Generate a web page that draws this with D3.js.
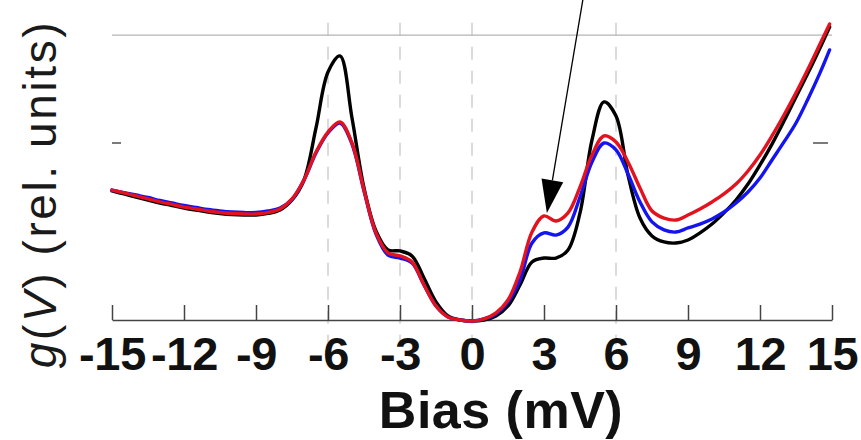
<!DOCTYPE html>
<html>
<head>
<meta charset="utf-8">
<script src="https://cdn.jsdelivr.net/npm/d3@7"></script>
<style>
  html, body { margin: 0; padding: 0; background: #fff; }
  svg { display: block; }
</style>
</head>
<body>
<svg id="chart" width="861" height="440"></svg>
<script>
// Bias voltages (mV) at which the conductance spectra are sampled
const bias = [
  -15, -14.5, -14, -13.5, -13, -12.5, -12, -11.5, -11, -10.5,
  -10, -9.5, -9, -8.5, -8, -7.5, -7, -6.5, -6, -5.5,
  -5, -4.5, -4, -3.5, -3, -2.5, -2, -1.5, -1, -0.5,
  0, 0.5, 1, 1.5, 2, 2.5, 3, 3.5, 4, 4.5,
  5, 5.5, 6, 6.5, 7, 7.5, 8, 8.5, 9, 9.5,
  10, 10.5, 11, 11.5, 12, 12.5, 13, 13.5, 14, 14.5, 14.9
];

// g(V) spectra, relative units
const gBlack = [
  0.729, 0.712, 0.695, 0.678, 0.661, 0.647, 0.633, 0.621, 0.610, 0.602,
  0.596, 0.593, 0.593, 0.602, 0.621, 0.678, 0.791, 1.085, 1.401, 1.492,
  1.141, 0.746, 0.503, 0.396, 0.390, 0.362, 0.237, 0.102, 0.023, 0.000,
  -0.006, 0.000, 0.023, 0.079, 0.198, 0.328, 0.350, 0.350, 0.396, 0.605,
  1.017, 1.232, 1.153, 0.819, 0.576, 0.475, 0.441, 0.435, 0.452, 0.492,
  0.542, 0.605, 0.678, 0.768, 0.876, 0.994, 1.124, 1.260, 1.395, 1.537, 1.655
];
const gBlue = [
  0.734, 0.720, 0.706, 0.692, 0.675, 0.661, 0.647, 0.636, 0.624, 0.616,
  0.610, 0.607, 0.607, 0.616, 0.633, 0.681, 0.791, 0.944, 1.057, 1.113,
  0.994, 0.729, 0.486, 0.367, 0.350, 0.322, 0.198, 0.079, 0.017, 0.000,
  -0.006, 0.006, 0.034, 0.102, 0.226, 0.435, 0.492, 0.480, 0.525, 0.695,
  0.893, 1.000, 0.961, 0.825, 0.667, 0.554, 0.509, 0.497, 0.520, 0.542,
  0.571, 0.610, 0.661, 0.723, 0.802, 0.904, 1.006, 1.113, 1.249, 1.396, 1.526
];
const gRed = [
  0.734, 0.718, 0.701, 0.684, 0.667, 0.653, 0.638, 0.627, 0.616, 0.607,
  0.602, 0.599, 0.599, 0.607, 0.627, 0.684, 0.791, 0.949, 1.062, 1.119,
  1.000, 0.734, 0.492, 0.379, 0.362, 0.328, 0.198, 0.079, 0.017, 0.000,
  -0.006, 0.006, 0.040, 0.113, 0.271, 0.497, 0.588, 0.559, 0.605, 0.751,
  0.932, 1.040, 1.006, 0.893, 0.746, 0.616, 0.576, 0.565, 0.593, 0.627,
  0.667, 0.712, 0.768, 0.842, 0.932, 1.040, 1.158, 1.283, 1.418, 1.559, 1.672
];

const xTicks = [-15, -12, -9, -6, -3, 0, 3, 6, 9, 12, 15];
const gridBias = [-6, -3, 0, 6];
const yTicks = [1];
const gTop = 1.61;

// Arrow marking the shoulder near +3 mV (tail, tip) in data units
const arrowTail = [4.62, 1.81];
const arrowTip = [3.12, 0.605];

const series = [
  { name: "black", values: gBlack, color: "#000000" },
  { name: "blue",  values: gBlue,  color: "#1414f0" },
  { name: "red",   values: gRed,   color: "#e3121e" }
];

const svg = d3.select("#chart");
const x = d3.scaleLinear().domain([-15, 15]).range([112, 832]);
const y = d3.scaleLinear().domain([0, 1]).range([320, 143]);

// dashed guide lines
svg.append("g").selectAll("line").data(gridBias).join("line")
  .attr("x1", d => x(d)).attr("x2", d => x(d))
  .attr("y1", y(1.68)).attr("y2", y(-0.14))
  .attr("stroke", "#c8c8c8").attr("stroke-width", 1.3)
  .attr("stroke-dasharray", "13,11");

// top frame line
svg.append("line")
  .attr("x1", x(-15)).attr("x2", x(15))
  .attr("y1", y(gTop)).attr("y2", y(gTop))
  .attr("stroke", "#b4b4b4").attr("stroke-width", 1.3);

// y ticks on both sides (inward, unlabeled)
svg.append("g").selectAll("line").data(yTicks).join("line")
  .attr("x1", x(-15)).attr("x2", x(-15) + 9)
  .attr("y1", d => y(d)).attr("y2", d => y(d))
  .attr("stroke", "#333").attr("stroke-width", 1.3);
svg.append("g").selectAll("line").data(yTicks).join("line")
  .attr("x1", x(15) - 19).attr("x2", x(15) - 4)
  .attr("y1", d => y(d)).attr("y2", d => y(d))
  .attr("stroke", "#333").attr("stroke-width", 1.3);

// x axis
const xAxis = d3.axisBottom(x)
  .tickValues(xTicks)
  .tickFormat(d => String(d))
  .tickSizeInner(-15)
  .tickSizeOuter(0)
  .tickPadding(17);
const gx = svg.append("g").attr("transform", `translate(0,${y(0)})`).call(xAxis);
gx.select(".domain").attr("stroke", "#444").attr("stroke-width", 1.5);
gx.selectAll(".tick line").attr("stroke", "#444").attr("stroke-width", 1.5);
gx.selectAll(".tick text")
  .attr("fill", "#111")
  .attr("font-family", "Liberation Sans, Arial, sans-serif")
  .attr("font-weight", "bold")
  .attr("font-size", 47)
  .attr("letter-spacing", -0.3);

// curves
const line = d3.line()
  .x((d, i) => x(bias[i]))
  .y(d => y(d))
  .curve(d3.curveCatmullRom.alpha(0.5));

svg.append("g").selectAll("path").data(series).join("path")
  .attr("d", s => line(s.values))
  .attr("fill", "none")
  .attr("stroke", s => s.color)
  .attr("stroke-width", 3.4)
  .attr("stroke-linejoin", "round")
  .attr("stroke-linecap", "round");

// annotation arrow
const tx = x(arrowTail[0]), ty = y(arrowTail[1]);
const hx = x(arrowTip[0]), hy = y(arrowTip[1]);
const len = Math.hypot(hx - tx, hy - ty);
const ux = (hx - tx) / len, uy = (hy - ty) / len;
const headLen = 33, headHalf = 11;
const bx = hx - ux * headLen, by = hy - uy * headLen;
svg.append("line")
  .attr("x1", tx).attr("y1", ty).attr("x2", bx).attr("y2", by)
  .attr("stroke", "#000").attr("stroke-width", 1.3);
svg.append("polygon")
  .attr("points", [
    [hx, hy],
    [bx - uy * headHalf, by + ux * headHalf],
    [bx + uy * headHalf, by - ux * headHalf]
  ].map(p => p.join(",")).join(" "))
  .attr("fill", "#000");

// axis titles
svg.append("text")
  .attr("x", 501).attr("y", 428)
  .attr("text-anchor", "middle")
  .attr("font-family", "Liberation Sans, Arial, sans-serif")
  .attr("font-weight", "bold")
  .attr("font-size", 52)
  .attr("letter-spacing", 0.5)
  .attr("fill", "#111")
  .text("Bias (mV)");

const yl = svg.append("text")
  .attr("transform", "translate(56,194) rotate(-90)")
  .attr("text-anchor", "middle")
  .attr("font-family", "Liberation Sans, Arial, sans-serif")
  .attr("font-size", 46)
  .attr("letter-spacing", 2.6)
  .attr("fill", "#1a1a1a");
yl.append("tspan").attr("font-style", "italic").text("g");
yl.append("tspan").text("(");
yl.append("tspan").attr("font-style", "italic").text("V");
yl.append("tspan").text(") (rel. units)");
</script>
</body>
</html>
